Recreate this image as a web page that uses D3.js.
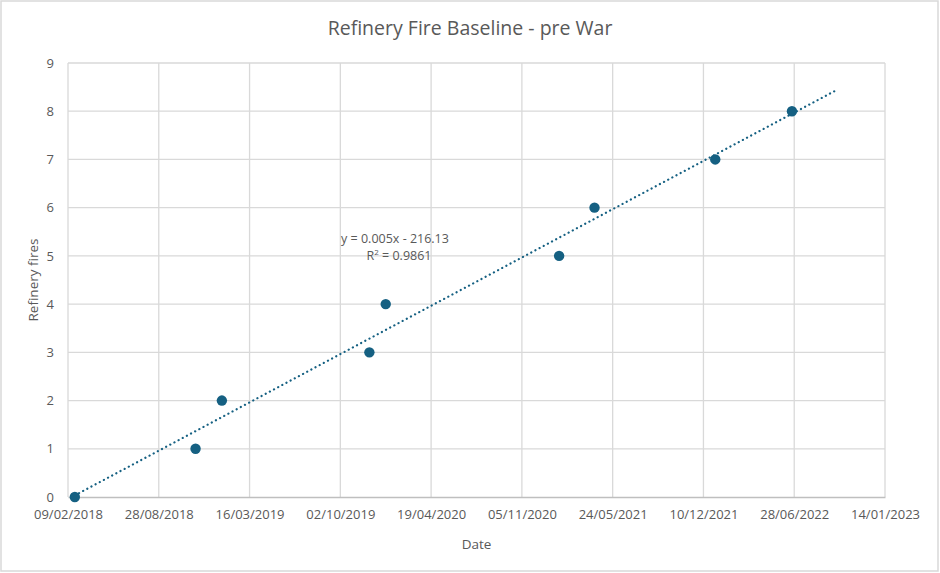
<!DOCTYPE html>
<html>
<head>
<meta charset="utf-8">
<script src="https://cdn.jsdelivr.net/npm/d3@7"></script>
<style>
  html, body { margin: 0; padding: 0; background: #ffffff; }
  svg { display: block; }
</style>
</head>
<body>
<svg id="chart" width="940" height="573"></svg>
<script>
// ---- Data ----
const dates = ["2018-02-24", "2018-11-17", "2019-01-14", "2019-12-05", "2020-01-10",
               "2021-01-26", "2021-04-14", "2022-01-05", "2022-06-23"];
const fires = [0, 1, 2, 3, 4, 5, 6, 7, 8];
const xTickLabels = ["09/02/2018", "28/08/2018", "16/03/2019", "02/10/2019", "19/04/2020",
                     "05/11/2020", "24/05/2021", "10/12/2021", "28/06/2022", "14/01/2023"];
const yTicks = [0, 1, 2, 3, 4, 5, 6, 7, 8, 9];
const titleText = "Refinery Fire Baseline - pre War";
const xTitle = "Date";
const yTitle = "Refinery fires";
const equationText = "y = 0.005x - 216.13";
const r2Label = "R";
const r2Value = " = 0.9861";
const forecastForwardDays = 96;

// ---- Setup ----
const W = 940, H = 573;
const margin = { left: 68, right: 55, top: 63, bottom: 76 };
const fontFam = "'Open Sans', 'Noto Sans', sans-serif";
const textCol = "#595959";
const markCol = "#156082";
const gridCol = "#d9d9d9";

const parseDMY = d3.utcParse("%d/%m/%Y");
const parseISO = d3.utcParse("%Y-%m-%d");
const tickDates = xTickLabels.map(parseDMY);
const pts = dates.map((d, i) => ({ x: parseISO(d), y: fires[i] }));

const svg = d3.select("#chart");
svg.append("rect").attr("x", 1).attr("y", 1).attr("width", W - 3).attr("height", H - 3)
  .attr("fill", "#fff").attr("stroke", "#d9d9d9").attr("stroke-width", 1.5);

const x = d3.scaleUtc()
  .domain([tickDates[0], tickDates[tickDates.length - 1]])
  .range([margin.left, W - margin.right]);
const y = d3.scaleLinear().domain([0, 9]).range([H - margin.bottom, margin.top]);

// Gridlines
const g = svg.append("g");
g.selectAll(".hg").data(yTicks.slice(1)).join("line")
  .attr("x1", margin.left).attr("x2", W - margin.right)
  .attr("y1", d => y(d)).attr("y2", d => y(d))
  .attr("stroke", gridCol).attr("stroke-width", 1.3);
g.selectAll(".vg").data(tickDates).join("line")
  .attr("x1", d => x(d)).attr("x2", d => x(d))
  .attr("y1", y(0)).attr("y2", y(9))
  .attr("stroke", gridCol).attr("stroke-width", 1.3);

// X axis
const xAxis = d3.axisBottom(x).tickValues(tickDates)
  .tickFormat((d, i) => xTickLabels[i]).tickSize(0).tickPadding(13);
const xg = svg.append("g").attr("transform", `translate(0,${y(0)})`).call(xAxis);
xg.select(".domain").attr("stroke", "#bfbfbf").attr("stroke-width", 1.3);
xg.selectAll("text").attr("fill", textCol).attr("font-size", 13).attr("font-family", fontFam);

// Y axis
const yAxis = d3.axisLeft(y).tickValues(yTicks).tickSize(0).tickPadding(14);
const yg = svg.append("g").attr("transform", `translate(${margin.left},0)`).call(yAxis);
yg.select(".domain").remove();
yg.selectAll("text").attr("fill", textCol).attr("font-size", 13).attr("font-family", fontFam);

// Trendline (least squares on day numbers)
const xs = pts.map(p => p.x.getTime() / 864e5);
const mx = d3.mean(xs), my = d3.mean(fires);
const sxy = d3.sum(xs, (v, i) => (v - mx) * (fires[i] - my));
const sxx = d3.sum(xs, v => (v - mx) ** 2);
const slope = sxy / sxx, icpt = my - slope * mx;
const t0 = d3.min(xs), t1 = d3.max(xs) + forecastForwardDays;
const trend = [t0, t1].map(t => ({ x: new Date(t * 864e5), y: slope * t + icpt }));
svg.append("path").datum(trend)
  .attr("d", d3.line().x(d => x(d.x)).y(d => y(d.y)))
  .attr("stroke", markCol).attr("stroke-width", 2.2).attr("fill", "none")
  .attr("stroke-linecap", "round").attr("stroke-dasharray", "0.1 4.6");

// Points
svg.selectAll(".pt").data(pts).join("circle")
  .attr("cx", d => x(d.x)).attr("cy", d => y(d.y)).attr("r", 5.2)
  .attr("fill", markCol);

// Equation label
const eq = svg.append("text").attr("x", 395).attr("y", 243)
  .attr("text-anchor", "middle").attr("fill", textCol)
  .attr("font-size", 12.5).attr("font-family", fontFam).text(equationText);
const r2 = svg.append("text").attr("x", 399).attr("y", 260)
  .attr("text-anchor", "middle").attr("fill", textCol)
  .attr("font-size", 12.5).attr("font-family", fontFam);
r2.append("tspan").text(r2Label);
r2.append("tspan").attr("dy", -5).attr("font-size", 8).text("2");
r2.append("tspan").attr("dy", 5).text(r2Value);

// Title
svg.append("text").attr("x", 470).attr("y", 35).attr("text-anchor", "middle")
  .attr("fill", textCol).attr("font-size", 19.5).attr("font-family", fontFam).text(titleText);

// Axis titles
svg.append("text").attr("x", (margin.left + W - margin.right) / 2).attr("y", 549)
  .attr("text-anchor", "middle").attr("fill", textCol).attr("font-size", 13.5)
  .attr("font-family", fontFam).text(xTitle);
svg.append("text").attr("transform", `translate(38,${(y(0) + y(9)) / 2}) rotate(-90)`)
  .attr("text-anchor", "middle").attr("fill", textCol).attr("font-size", 13.5)
  .attr("font-family", fontFam).text(yTitle);
</script>
</body>
</html>
